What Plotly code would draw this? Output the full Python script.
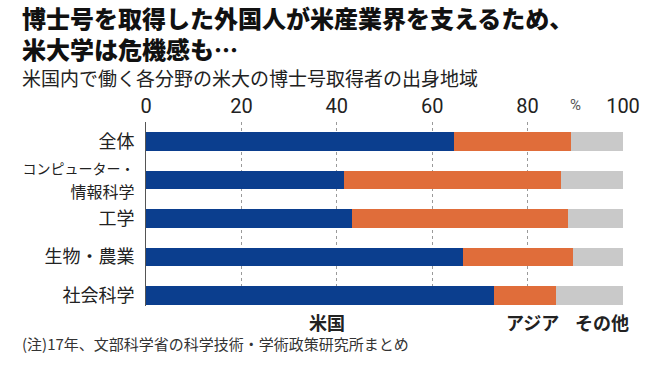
import plotly.graph_objects as go

categories = ["全体", "コンピューター・<br>情報科学", "工学", "生物・農業", "社会科学"]
us = [64.6, 41.5, 43.1, 66.4, 72.9]
asia = [24.5, 45.6, 45.3, 23.1, 13.1]
other = [10.9, 12.9, 11.6, 10.5, 14.0]
series_names = ["米国", "アジア", "その他"]
series_colors = ["#0b3e8e", "#e06d3a", "#c9c9c9"]
tick_vals = [0, 20, 40, 60, 80, 100]
legend_x = [38, 81, 95.5]

JP = "Noto Sans CJK JP"

fig = go.Figure()
for name, vals, col in zip(series_names, [us, asia, other], series_colors):
    fig.add_trace(go.Bar(
        y=list(range(len(categories))), x=vals, name=name, orientation="h",
        marker=dict(color=col, line=dict(width=0)), width=0.48,
        hoverinfo="x+name",
    ))

ticktext_y = []
for c in categories:
    if "<br>" in c:
        a, b = c.split("<br>")
        ticktext_y.append("<span style='font-size:14px'>" + a + "</span><br>"
                          "<span style='font-size:16px'>" + b + "</span>")
    else:
        ticktext_y.append(c)

fig.update_layout(
    barmode="stack",
    width=665, height=370,
    margin=dict(l=146, r=42, t=122, b=64),
    paper_bgcolor="white", plot_bgcolor="white",
    showlegend=False,
    font=dict(family=JP, color="#222"),
    xaxis=dict(
        side="top", range=[0, 100], tickvals=tick_vals,
        ticktext=[str(v) for v in tick_vals],
        tickfont=dict(family="Liberation Sans Narrow, Roboto", size=20, color="#222"),
        showgrid=True, gridcolor="#9a9a9a", griddash="dot", gridwidth=1,
        zeroline=False, showline=False, ticks="", ticklabelstandoff=4,
        automargin=False,
    ),
    yaxis=dict(
        tickvals=list(range(len(categories))), ticktext=ticktext_y,
        range=[4.27, -0.5],
        tickfont=dict(family=JP, size=18, color="#222"),
        showgrid=False, zeroline=False,
        showline=True, linecolor="#555", linewidth=1, ticks="",
        ticklabelstandoff=7, automargin=False,
    ),
)

fig.add_annotation(xref="x domain", yref="y domain", x=0, y=1, xanchor="left", yanchor="top",
                   xshift=-126, yshift=124,
                   text="博士号を取得した外国人が米産業界を支えるため、<br>米大学は危機感も…",
                   showarrow=False, align="left",
                   font=dict(family=JP, size=24, color="#111", weight=900))
fig.add_annotation(xref="x domain", yref="y domain", x=0, y=1, xanchor="left", yanchor="middle",
                   xshift=-126, yshift=45,
                   text="米国内で働く各分野の米大の博士号取得者の出身地域",
                   showarrow=False, align="left",
                   font=dict(family=JP, size=19, color="#222"))
fig.add_annotation(xref="x", yref="y domain", x=(tick_vals[-2] + tick_vals[-1]) / 2, y=1,
                   xanchor="center", yanchor="middle", yshift=17,
                   text="%", showarrow=False,
                   font=dict(family="Liberation Sans Narrow, Roboto", size=15, color="#555"))

for name, lx in zip(series_names, legend_x):
    fig.add_annotation(xref="x", yref="y domain", x=lx, y=0, xanchor="center", yanchor="middle",
                       yshift=-16, text="<b>" + name + "</b>", showarrow=False,
                       font=dict(family=JP, size=18, color="#222"))

fig.add_annotation(xref="x domain", yref="y domain", x=0, y=0, xanchor="left", yanchor="middle",
                   xshift=-126, yshift=-37,
                   text="(注)17年、文部科学省の科学技術・学術政策研究所まとめ",
                   showarrow=False, align="left",
                   font=dict(family=JP, size=15, color="#333"))

fig.write_html("out.html", config={"displayModeBar": False},
               post_script="document.body.style.margin='0';document.body.style.padding='0';")
